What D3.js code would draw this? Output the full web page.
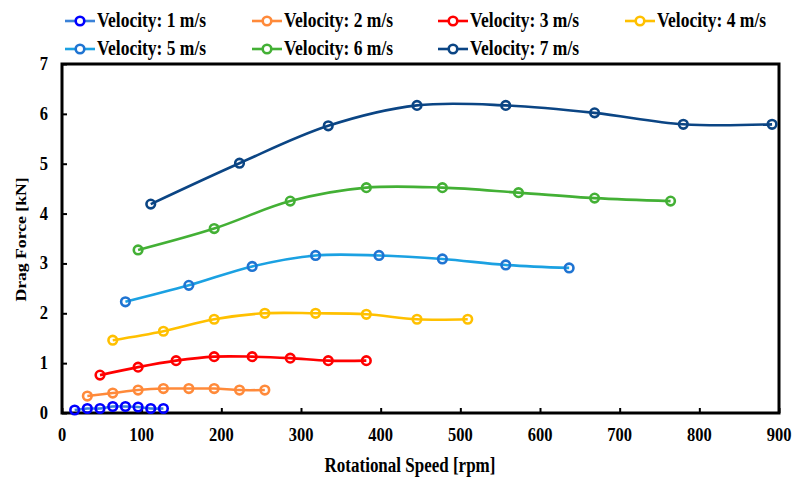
<!DOCTYPE html>
<html>
<head>
<meta charset="utf-8">
<script src="https://cdn.jsdelivr.net/npm/d3@7/dist/d3.min.js"></script>
<style>
  html, body { margin: 0; padding: 0; background: #fff; }
  svg { display: block; }
  text { font-family: "Liberation Serif", "Times New Roman", serif; font-weight: bold; fill: #000; }
</style>
</head>
<body>
<svg id="chart" width="795" height="478"></svg>
<script>
// Rotational speed [rpm] for each flow velocity
const rpm1 = [15.9, 31.8, 47.7, 63.7, 79.6, 95.5, 111.4, 127.3];
const rpm2 = [31.8, 63.7, 95.5, 127.3, 159.2, 191.0, 222.8, 254.6];
const rpm3 = [47.7, 95.5, 143.2, 191.0, 238.7, 286.5, 334.2, 382.0];
const rpm4 = [63.7, 127.3, 191.0, 254.6, 318.3, 382.0, 445.6, 509.3];
const rpm5 = [79.6, 159.2, 238.7, 318.3, 397.9, 477.5, 557.0, 636.6];
const rpm6 = [95.5, 191.0, 286.5, 382.0, 477.5, 573.0, 668.5, 763.9];
const rpm7 = [111.4, 222.8, 334.2, 445.6, 557.0, 668.5, 779.9, 891.3];

// Drag force [kN]
const force1 = [0.06, 0.09, 0.09, 0.13, 0.13, 0.12, 0.09, 0.09];
const force2 = [0.34, 0.40, 0.46, 0.49, 0.49, 0.49, 0.46, 0.46];
const force3 = [0.76, 0.92, 1.05, 1.13, 1.13, 1.10, 1.05, 1.05];
const force4 = [1.46, 1.64, 1.88, 2.00, 2.00, 1.98, 1.88, 1.88];
const force5 = [2.23, 2.56, 2.94, 3.16, 3.16, 3.09, 2.97, 2.91];
const force6 = [3.27, 3.70, 4.25, 4.52, 4.52, 4.42, 4.31, 4.25];
const force7 = [4.19, 5.01, 5.76, 6.17, 6.17, 6.02, 5.79, 5.79];

const seriesNames = ["Velocity: 1 m/s", "Velocity: 2 m/s", "Velocity: 3 m/s", "Velocity: 4 m/s",
                     "Velocity: 5 m/s", "Velocity: 6 m/s", "Velocity: 7 m/s"];
const lineColors   = ["#3b82d8", "#ff8a3a", "#ff0000", "#ffc000", "#1ba1e2", "#43b035", "#0b4584"];
const markerColors = ["#0000ff", "#ff8a3a", "#ff0000", "#ffc000", "#1f74d2", "#43b035", "#0b4584"];

const xTicks = [0, 100, 200, 300, 400, 500, 600, 700, 800, 900];
const yTicks = [0, 1, 2, 3, 4, 5, 6, 7];

const xTitle = "Rotational Speed [rpm]";
const yTitle = "Drag Force [kN]";

const rpms = [rpm1, rpm2, rpm3, rpm4, rpm5, rpm6, rpm7];
const forces = [force1, force2, force3, force4, force5, force6, force7];
const series = seriesNames.map((name, i) => ({
  name, line: lineColors[i], marker: markerColors[i],
  points: rpms[i].map((r, j) => ({ x: r, y: forces[i][j] }))
}));

const svg = d3.select("#chart");
const plotL = 62, plotR = 779, plotT = 64, plotB = 413;
const x = d3.scaleLinear().domain([0, 900]).range([plotL, plotR]);
const y = d3.scaleLinear().domain([0, 7]).range([plotB, plotT]);
const STRETCH = 1.2; // tall, narrow lettering

function label(g, tx, ty, str, size, anchor, sy) {
  return g.append("text")
    .attr("transform", `translate(${tx},${ty}) scale(1,${sy || STRETCH})`)
    .attr("text-anchor", anchor)
    .attr("font-size", size)
    .text(str);
}

// Axes with inward ticks
const xAxis = d3.axisBottom(x).tickValues(xTicks).tickSize(-5).tickFormat("");
const yAxis = d3.axisLeft(y).tickValues(yTicks).tickSize(-5).tickFormat("");
const gx = svg.append("g").attr("transform", `translate(0,${plotB})`).call(xAxis);
const gy = svg.append("g").attr("transform", `translate(${plotL},0)`).call(yAxis);
[gx, gy].forEach(g => {
  g.select(".domain").remove();
  g.selectAll(".tick line").attr("stroke", "#000").attr("stroke-width", 2);
});

// Frame
svg.append("rect")
  .attr("x", plotL).attr("y", plotT)
  .attr("width", plotR - plotL).attr("height", plotB - plotT)
  .attr("fill", "none").attr("stroke", "#000").attr("stroke-width", 3);

// Tick labels
xTicks.forEach(v => label(svg, x(v), 441, String(v), 16.5, "middle"));
yTicks.forEach(v => label(svg, 48, y(v) + 6, String(v), 16.5, "end"));

// Axis titles
label(svg, 410, 472, xTitle, 17, "middle");
svg.append("text")
  .attr("transform", `translate(26,${(plotT + plotB) / 2 + 1}) rotate(-90) scale(${STRETCH * 0.95},1)`)
  .attr("text-anchor", "middle")
  .attr("font-size", 15.5)
  .text(yTitle);

// Series
const lineGen = d3.line().x(d => x(d.x)).y(d => y(d.y)).curve(d3.curveCatmullRom.alpha(0.5));
const gs = svg.append("g");
series.forEach(s => {
  gs.append("path")
    .attr("d", lineGen(s.points))
    .attr("fill", "none")
    .attr("stroke", s.line)
    .attr("stroke-width", 2.6);
  gs.selectAll(null).data(s.points).enter().append("circle")
    .attr("cx", d => x(d.x)).attr("cy", d => y(d.y))
    .attr("r", 4.3)
    .attr("fill", "none")
    .attr("stroke", s.marker)
    .attr("stroke-width", 2.6);
});

// Legend
const legX = [65, 252, 438, 625];
const legY = [21, 49];
series.forEach((s, i) => {
  const lx = legX[i % 4], ly = legY[Math.floor(i / 4)];
  const g = svg.append("g");
  g.append("line").attr("x1", lx).attr("x2", lx + 30).attr("y1", ly).attr("y2", ly)
    .attr("stroke", s.line).attr("stroke-width", 2.6);
  g.append("circle").attr("cx", lx + 15).attr("cy", ly).attr("r", 4.3)
    .attr("fill", "#fff").attr("stroke", s.marker).attr("stroke-width", 2.6);
  label(g, lx + 32, ly + 6, s.name, 17.5, "start");
});
</script>
</body>
</html>
